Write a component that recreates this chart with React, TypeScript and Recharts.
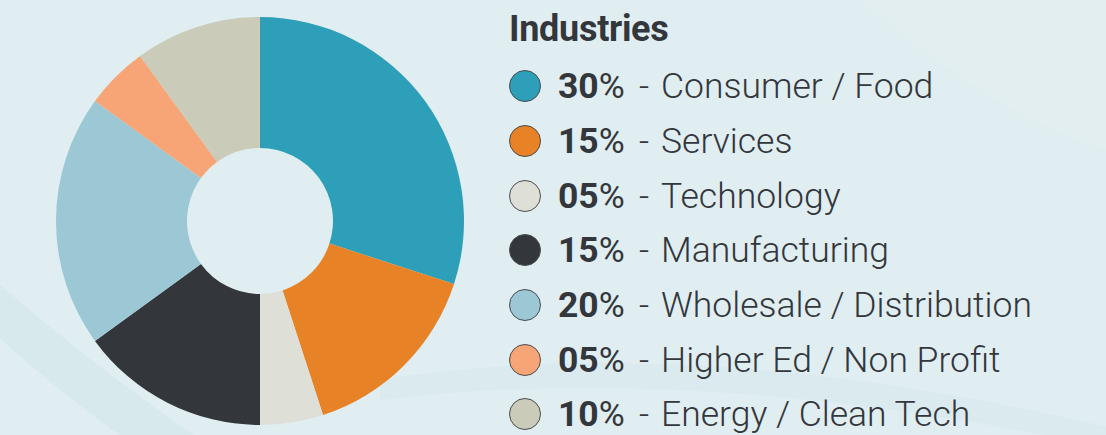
import { PieChart, Pie, Cell, Legend } from "recharts";

const industries = [
  "Consumer / Food",
  "Services",
  "Technology",
  "Manufacturing",
  "Wholesale / Distribution",
  "Higher Ed / Non Profit",
  "Energy / Clean Tech",
];
const shares = [30, 15, 5, 15, 20, 5, 10];
const shareLabels = ["30", "15", "05", "15", "20", "05", "10"];
const colors = [
  "#2E9FB8",
  "#E88226",
  "#DEDFD7",
  "#33363B",
  "#9BC8D4",
  "#F7A577",
  "#CACBB9",
];

const data = industries.map((name, i) => ({ name, value: shares[i] }));

const TEXT = "#33373c";
const FONT = "Roboto, 'Noto Sans', sans-serif";

function LegendBlock() {
  return (
    <div style={{ fontFamily: FONT, color: TEXT }}>
      <div
        style={{
          fontSize: 36,
          fontWeight: 700,
          height: 59,
          lineHeight: "58px",
          marginLeft: 0,
          letterSpacing: -0.3,
        }}
      >
        Industries
      </div>
      {industries.map((name, i) => (
        <div
          key={name}
          style={{
            display: "flex",
            alignItems: "center",
            height: 54.7,
            fontSize: 35.5,
            whiteSpace: "nowrap",
          }}
        >
          <span
            style={{
              width: 32,
              height: 32,
              borderRadius: "50%",
              background: colors[i],
              border: "1px solid #4a4d52",
              boxSizing: "border-box",
              flex: "none",
            }}
          />
          <span style={{ width: 81, marginLeft: 17, flex: "none" }}>
            <span style={{ fontWeight: 700 }}>{shareLabels[i]}</span>
            <span style={{ fontWeight: 400 }}>%</span>
          </span>
          <span style={{ width: 22, fontWeight: 300, flex: "none" }}>-</span>
          <span style={{ fontWeight: 300 }}>{name}</span>
        </div>
      ))}
    </div>
  );
}

export default function App() {
  return (
    <div
      style={{
        position: "absolute",
        left: 0,
        top: 0,
        width: 1106,
        height: 435,
        overflow: "hidden",
        background: "#e0edf1",
      }}
    >
      <svg
        width={1106}
        height={435}
        style={{ position: "absolute", left: 0, top: 0 }}
      >
        <path
          d="M -40 250 Q 150 420 330 520 L 250 520 Q 80 420 -40 300 Z"
          fill="#d5e7ec"
          opacity={0.8}
        />
        <path
          d="M 380 380 Q 700 330 1120 430 L 1120 450 Q 700 360 380 400 Z"
          fill="#d7e8ed"
          opacity={0.7}
        />
        <path
          d="M 860 0 Q 1000 120 1106 150 L 1106 0 Z"
          fill="#e2eeef"
          opacity={0.6}
        />
      </svg>
      <PieChart
        width={1106}
        height={435}
        margin={{ top: 0, right: 0, bottom: 0, left: 0 }}
        style={{ position: "absolute" }}
      >
        <Pie
          data={data}
          dataKey="value"
          nameKey="name"
          cx={260}
          cy={221}
          innerRadius={73}
          outerRadius={204}
          startAngle={90}
          endAngle={-270}
          stroke="none"
          isAnimationActive={false}
        >
          {data.map((_, index) => (
            <Cell key={`cell-${index}`} fill={colors[index]} />
          ))}
        </Pie>
        <Legend
          content={() => <LegendBlock />}
          wrapperStyle={{ left: 509, top: 0, width: 597, bottom: "auto" }}
        />
      </PieChart>
    </div>
  );
}
